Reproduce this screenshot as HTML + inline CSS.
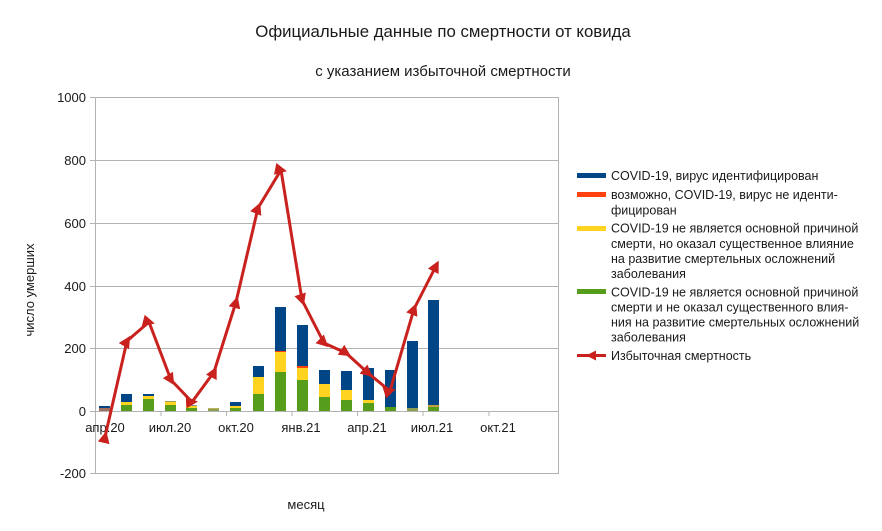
<!DOCTYPE html>
<html><head><meta charset="utf-8"><style>
body{margin:0;background:#fff}
svg{display:block;font-family:"Liberation Sans",sans-serif}
</style></head><body>
<svg width="882" height="531" viewBox="0 0 882 531" xmlns="http://www.w3.org/2000/svg">
<defs>
<marker id="m" viewBox="0 0 10 10" refX="5" refY="5" markerWidth="12" markerHeight="12" markerUnits="userSpaceOnUse" orient="auto">
<polygon points="0,0 10,5 0,10" fill="#c9211e"/>
</marker>
</defs>
<rect width="882" height="531" fill="#fff"/>
<text x="443" y="37" font-size="16.8" text-anchor="middle" fill="#1a1a1a">Официальные данные по смертности от ковида</text>
<text x="443" y="76" font-size="15" text-anchor="middle" fill="#1a1a1a">с указанием избыточной смертности</text>
<g stroke="#b3b3b3" stroke-width="1">
<line x1="90" y1="97.5" x2="558" y2="97.5"/>
<line x1="90" y1="160.5" x2="558" y2="160.5"/>
<line x1="90" y1="223.5" x2="558" y2="223.5"/>
<line x1="90" y1="286.5" x2="558" y2="286.5"/>
<line x1="90" y1="348.5" x2="558" y2="348.5"/>
<line x1="90" y1="411.5" x2="558" y2="411.5"/>
<line x1="90" y1="473.5" x2="558" y2="473.5"/>
<line x1="95.5" y1="97" x2="95.5" y2="474"/>
<line x1="558.5" y1="97" x2="558.5" y2="474"/>
<line x1="161" y1="411" x2="161" y2="416"/>
<line x1="226.5" y1="411" x2="226.5" y2="416"/>
<line x1="292" y1="411" x2="292" y2="416"/>
<line x1="357.5" y1="411" x2="357.5" y2="416"/>
<line x1="423" y1="411" x2="423" y2="416"/>
<line x1="489" y1="411" x2="489" y2="416"/>
</g>
<g font-size="13" text-anchor="end" fill="#1a1a1a">
<text x="86" y="102">1000</text>
<text x="86" y="165">800</text>
<text x="86" y="228">600</text>
<text x="86" y="291">400</text>
<text x="86" y="353">200</text>
<text x="86" y="416">0</text>
<text x="86" y="478">-200</text>
</g>
<g font-size="13" text-anchor="middle" fill="#1a1a1a">
<text x="105" y="432">апр.20</text>
<text x="170" y="432">июл.20</text>
<text x="236" y="432">окт.20</text>
<text x="301" y="432">янв.21</text>
<text x="367" y="432">апр.21</text>
<text x="432" y="432">июл.21</text>
<text x="498" y="432">окт.21</text>
<text x="306" y="509">месяц</text>
</g>
<text transform="translate(34,290) rotate(-90)" font-size="13" text-anchor="middle" fill="#1a1a1a">число умерших</text>
<g>
<rect x="99" y="406" width="11" height="2" fill="#004586"/><rect x="99" y="408" width="11" height="3" fill="#a07060"/>
<rect x="121" y="394" width="11" height="8" fill="#004586"/><rect x="121" y="402" width="11" height="3" fill="#ffd320"/><rect x="121" y="405" width="11" height="6" fill="#579d1c"/>
<rect x="143" y="394" width="11" height="2" fill="#004586"/><rect x="143" y="396" width="11" height="3" fill="#ffd320"/><rect x="143" y="399" width="11" height="12" fill="#579d1c"/>
<rect x="165" y="401" width="11" height="1" fill="#a0a060"/><rect x="165" y="402" width="11" height="3" fill="#ffd320"/><rect x="165" y="405" width="11" height="6" fill="#579d1c"/>
<rect x="186" y="405" width="11" height="1" fill="#8090a0"/><rect x="186" y="406" width="11" height="2" fill="#ffd320"/><rect x="186" y="408" width="11" height="3" fill="#579d1c"/>
<rect x="208" y="408" width="11" height="1" fill="#c0b060"/><rect x="208" y="409" width="11" height="2" fill="#8aa050"/>
<rect x="230" y="402" width="11" height="4" fill="#004586"/><rect x="230" y="406" width="11" height="2" fill="#ffd320"/><rect x="230" y="408" width="11" height="3" fill="#579d1c"/>
<rect x="253" y="366" width="11" height="11" fill="#004586"/><rect x="253" y="377" width="11" height="17" fill="#ffd320"/><rect x="253" y="394" width="11" height="17" fill="#579d1c"/>
<rect x="275" y="307" width="11" height="44" fill="#004586"/><rect x="275" y="351" width="11" height="1" fill="#ff420e"/><rect x="275" y="352" width="11" height="20" fill="#ffd320"/><rect x="275" y="372" width="11" height="39" fill="#579d1c"/>
<rect x="297" y="325" width="11" height="41" fill="#004586"/><rect x="297" y="366" width="11" height="2" fill="#ff420e"/><rect x="297" y="368" width="11" height="12" fill="#ffd320"/><rect x="297" y="380" width="11" height="31" fill="#579d1c"/>
<rect x="319" y="370" width="11" height="14" fill="#004586"/><rect x="319" y="384" width="11" height="13" fill="#ffd320"/><rect x="319" y="397" width="11" height="14" fill="#579d1c"/>
<rect x="341" y="371" width="11" height="19" fill="#004586"/><rect x="341" y="390" width="11" height="10" fill="#ffd320"/><rect x="341" y="400" width="11" height="11" fill="#579d1c"/>
<rect x="363" y="368" width="11" height="32" fill="#004586"/><rect x="363" y="400" width="11" height="3" fill="#ffd320"/><rect x="363" y="403" width="11" height="8" fill="#579d1c"/>
<rect x="385" y="370" width="11" height="37" fill="#004586"/><rect x="385" y="407" width="11" height="4" fill="#579d1c"/>
<rect x="407" y="341" width="11" height="67" fill="#004586"/><rect x="407" y="408" width="11" height="3" fill="#8aa050"/>
<rect x="428" y="300" width="11" height="105" fill="#004586"/><rect x="428" y="405" width="11" height="2" fill="#c0a040"/><rect x="428" y="407" width="11" height="4" fill="#579d1c"/>
</g>
<polyline points="105,437 127,341 149,322 171,380 192,402 214,372 236,302 258,208 281,170 302,300 324,343 346,353 368,373 390,391 414,309 436,266" fill="none" stroke="#c9211e" stroke-width="3" stroke-linejoin="round" marker-start="url(#m)" marker-mid="url(#m)" marker-end="url(#m)"/>
<g font-size="12.5" fill="#1a1a1a">
<rect x="577" y="173" width="29" height="5" fill="#004586"/>
<text x="611" y="180">COVID-19, вирус идентифицирован</text>
<rect x="577" y="192" width="29" height="5" fill="#ff420e"/>
<text x="611" y="199">возможно, COVID-19, вирус не иденти-</text>
<text x="611" y="214.5">фицирован</text>
<rect x="577" y="226" width="29" height="5" fill="#ffd320"/>
<text x="611" y="232.5">COVID-19 не является основной причиной</text>
<text x="611" y="248">смерти, но оказал существенное влияние</text>
<text x="611" y="263">на развитие смертельных осложнений</text>
<text x="611" y="278">заболевания</text>
<rect x="577" y="289" width="29" height="5" fill="#579d1c"/>
<text x="611" y="296.5">COVID-19 не является основной причиной</text>
<text x="611" y="311.5">смерти и не оказал существенного влия-</text>
<text x="611" y="326.5">ния на развитие смертельных осложнений</text>
<text x="611" y="341.5">заболевания</text>
<line x1="577" y1="355.5" x2="606" y2="355.5" stroke="#c9211e" stroke-width="3"/>
<polygon points="586,355.5 596,350.5 596,360.5" fill="#c9211e"/>
<text x="611" y="360">Избыточная смертность</text>
</g>
</svg>
</body></html>
